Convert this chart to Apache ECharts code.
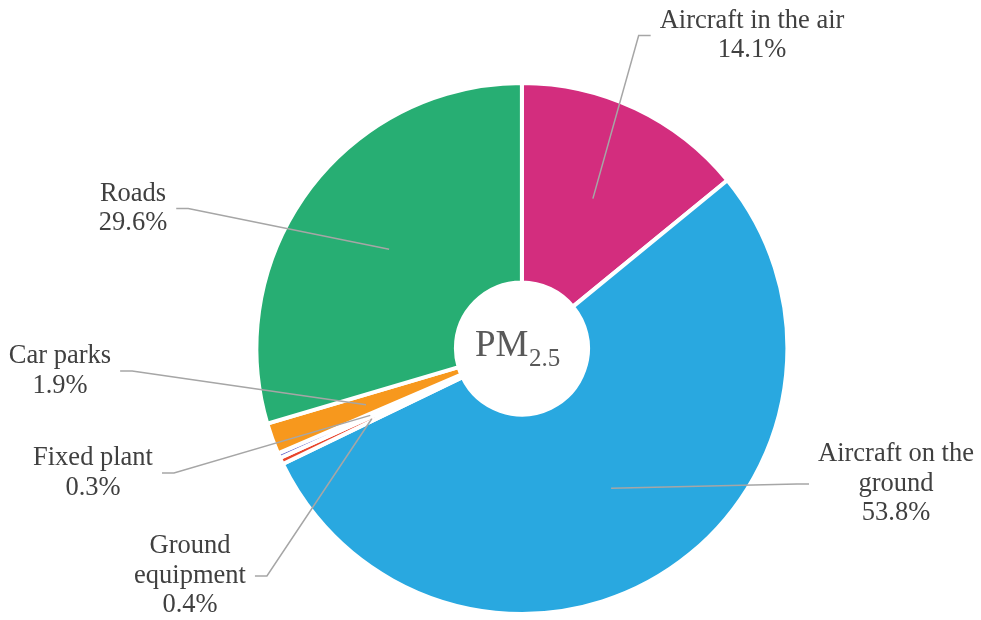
<!DOCTYPE html>
<html>
<head>
<meta charset="utf-8">
<title>PM2.5 sources</title>
<script src="https://cdn.jsdelivr.net/npm/echarts@6/dist/echarts.min.js"></script>
<style>
  html, body { margin: 0; padding: 0; background: #ffffff; }
  #chart { width: 981px; height: 620px; }
</style>
</head>
<body>
<div id="chart"></div>
<script>
// Source categories, clockwise from 12 o'clock
const categories = [
  'Aircraft in the air',
  'Aircraft on the\nground',
  'Ground\nequipment',
  'Fixed plant',
  'Car parks',
  'Roads'
];
// Share of PM2.5 emissions (%)
const shares = [14.1, 53.8, 0.4, 0.3, 1.9, 29.6];
const sliceColors = ['#D32D7E', '#29A8E0', '#E8452C', '#6A6ACD', '#F7981D', '#27AE73'];

// Where each label block is centred (px) — hand-placed callouts
const labelCentres = [[752, 35.5], [896, 484], [190, 576], [93, 473], [60, 371], [133, 208.5]];

const CX = 0.532, CY = 0.562;       // pie centre (fraction of canvas)
const R0 = 66, R1 = 265.5;          // ring radii (px)
const FONT = '"Liberation Serif", "Times New Roman", serif';

const chart = echarts.init(document.getElementById('chart'), null, { renderer: 'canvas' });

const total = shares.reduce((a, b) => a + b, 0);
// mid-angle of each slice, clockwise from the top, in radians
const midAngles = [];
{
  let cum = 0;
  shares.forEach(v => {
    midAngles.push(2 * Math.PI * (cum + v / 2) / total);
    cum += v;
  });
}

const pieBase = {
  type: 'pie',
  center: [(CX * 100) + '%', (CY * 100) + '%'],
  radius: [R0, R1],
  startAngle: 90,
  clockwise: true,
  avoidLabelOverlap: false,
  silent: true
};

chart.setOption({
  animation: false,
  backgroundColor: '#ffffff',
  graphic: [
    {
      type: 'text', left: 475, top: 346.5 - 18.5,
      style: { text: 'PM', font: '37px ' + FONT, fill: '#595959' }
    },
    {
      type: 'text', left: 529, top: 359.6 - 12.5,
      style: { text: '2.5', font: '25px ' + FONT, fill: '#595959' }
    }
  ],
  series: [
    // the ring itself
    Object.assign({}, pieBase, {
      z: 2,
      itemStyle: { borderColor: '#ffffff', borderWidth: 4 },
      label: { show: false },
      labelLine: { show: false },
      data: categories.map((name, i) => ({
        name: name,
        value: shares[i],
        itemStyle: { color: sliceColors[i] }
      }))
    }),
    // callout labels and leader lines, drawn over the ring
    Object.assign({}, pieBase, {
      z: 3,
      itemStyle: { color: 'rgba(0,0,0,0)', borderWidth: 0 },
      label: {
        show: true,
        position: 'outside',
        color: '#404040',
        fontFamily: FONT,
        fontSize: 26.5,
        lineHeight: 29.5,
        align: 'center',
        formatter: p => p.name + '\n' + shares[p.dataIndex].toFixed(1) + '%'
      },
      labelLine: {
        show: true,
        length: 10, length2: 10,
        lineStyle: { color: '#A6A6A6', width: 1.5 }
      },
      labelLayout: function (params) {
        const i = params.dataIndex;
        const w = chart.getWidth(), h = chart.getHeight();
        const cx = w * CX, cy = h * CY;
        const rm = (R0 + R1) / 2;
        const a = midAngles[i];
        const start = [cx + rm * Math.sin(a), cy - rm * Math.cos(a)];
        const [lx, ly] = labelCentres[i];
        const half = params.labelRect.width / 2;
        const onRight = lx > cx;
        const endX = onRight ? lx - half - 9 : lx + half + 9;
        const elbowX = onRight ? endX - 12 : endX + 12;
        return {
          x: lx, y: ly,
          align: 'center', verticalAlign: 'middle',
          labelLinePoints: [start, [elbowX, ly], [endX, ly]]
        };
      },
      data: categories.map((name, i) => ({ name: name, value: shares[i] }))
    })
  ]
});
</script>
</body>
</html>
